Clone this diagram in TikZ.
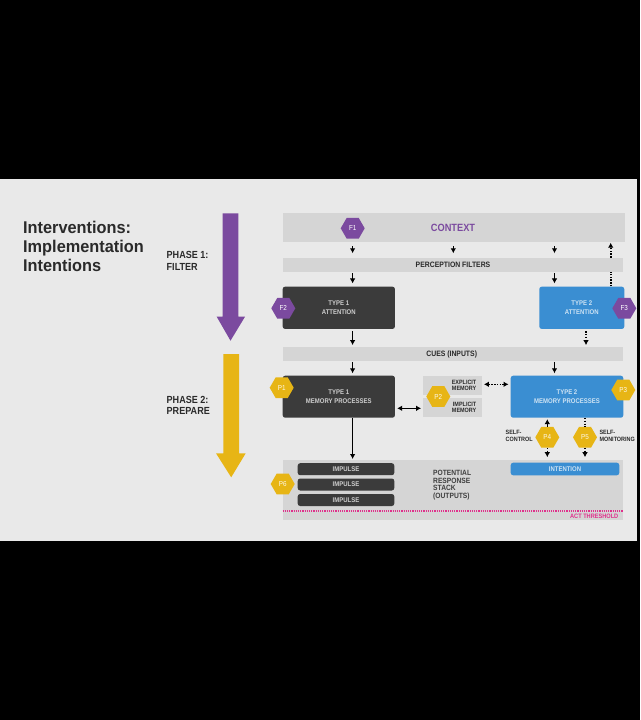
\documentclass[tikz,border=0pt]{standalone}
\usepackage{fontspec}
\setmainfont{Liberation Sans}
\newfontfamily\lbl{Liberation Sans}[FakeStretch=0.88]
\newfontfamily\ttl{Liberation Sans}[FakeStretch=0.96]
\usetikzlibrary{shapes.geometric,arrows.meta}
\definecolor{slidebg}{HTML}{E9E9E9}
\definecolor{barg}{HTML}{D5D5D5}
\definecolor{darkbox}{HTML}{3B3B3B}
\definecolor{bluec}{HTML}{3A8ED2}
\definecolor{purp}{HTML}{7B4A9F}
\definecolor{yell}{HTML}{E7B515}
\definecolor{magc}{HTML}{E0308C}
\definecolor{textdark}{HTML}{2A2A2A}
\definecolor{boxtext}{HTML}{CFCFCF}
\begin{document}
\begin{tikzpicture}[x=1pt,y=-1pt,
  bar/.style={fill=barg, draw=none, inner sep=0pt, text=textdark, font=\lbl\bfseries\fontsize{7.8}{9}\selectfont},
  dbox/.style={fill=darkbox, rounded corners=2.5pt, inner sep=0pt, align=center, text=boxtext, font=\lbl\bfseries\fontsize{6.8}{8.6}\selectfont},
  bbox/.style={fill=bluec, rounded corners=2.5pt, inner sep=0pt, align=center, text=white!75!bluec, font=\lbl\bfseries\fontsize{6.8}{8.6}\selectfont},
  membox/.style={fill=barg, inner sep=0pt, minimum width=58.4pt, minimum height=19.6pt},
  hexp/.style={regular polygon, regular polygon sides=6, minimum size=24pt, inner sep=0pt, fill=purp, text=white, font=\lbl\fontsize{7.2}{8}\selectfont},
  hexy/.style={hexp, fill=yell, text=white!90!yell},
  smalllbl/.style={inner sep=0pt, text=textdark, font=\lbl\bfseries\fontsize{6.2}{6.6}\selectfont},
  arr/.style={line width=1.6pt, -{Latex[length=5pt,width=5.6pt]}},
  dotarr/.style={arr, dash pattern=on 1.5pt off 1.3pt},
  dotln/.style={line width=1.6pt, dash pattern=on 1.5pt off 1.3pt},
  biarr/.style={line width=1.6pt, {Latex[length=5pt,width=5.6pt]}-{Latex[length=5pt,width=5.6pt]}},
  dotbiarr/.style={biarr, dash pattern=on 1.5pt off 1.3pt}
]
\useasboundingbox (0,0) rectangle (640,720);
\fill[black] (0,0) rectangle (640,720);
\fill[slidebg] (0,179) rectangle (637,541);

% title and phases
\node[anchor=west, align=left, inner sep=0pt, text=textdark, font=\ttl\bfseries\fontsize{17}{19}\selectfont] (title) at (23,246.7) {Interventions:\\Implementation\\Intentions};
\node[anchor=west, align=left, inner sep=0pt, text=textdark, font=\lbl\bfseries\fontsize{10.3}{11.7}\selectfont] (ph1) at (166.5,261) {PHASE 1:\\FILTER};
\node[anchor=west, align=left, inner sep=0pt, text=textdark, font=\lbl\bfseries\fontsize{10.3}{11.7}\selectfont] (ph2) at (166.5,405.5) {PHASE 2:\\PREPARE};

% big arrows
\fill[purp] (222.7,213.3) -- (238.3,213.3) -- (238.3,316.7) -- (245,316.7) -- (230.5,340.7) -- (216.7,316.7) -- (222.7,316.7) -- cycle;
\fill[yell] (223.3,354) -- (239,354) -- (239,453.3) -- (245.7,453.3) -- (231.2,477.3) -- (216,453.3) -- (223.3,453.3) -- cycle;

% bars
\node[bar, minimum width=341.7pt, minimum height=28.4pt, text=purp, font=\lbl\bfseries\fontsize{10.5}{12}\selectfont] (ctx) at (454.2,227.5) {\hspace*{-2.4pt}CONTEXT};
\node[bar, minimum width=340pt, minimum height=13.7pt] (pf) at (453,264.8) {PERCEPTION FILTERS};
\node[bar, minimum width=340pt, minimum height=13.4pt] (cues) at (452.7,354) {\hspace*{-2pt}CUES (INPUTS)};
\node[bar, minimum width=340pt, minimum height=60pt] (stack) at (452.7,490) {};

% boxes
\node[dbox, minimum width=112.3pt, minimum height=42.3pt] (t1att) at (338.8,307.8) {TYPE 1\\ATTENTION};
\node[bbox, minimum width=85pt, minimum height=42.3pt] (t2att) at (581.8,307.8) {TYPE 2\\ATTENTION};
\node[dbox, minimum width=112.3pt, minimum height=42pt] (t1mem) at (338.8,396.7) {TYPE 1\\MEMORY PROCESSES};
\node[bbox, minimum width=112.6pt, minimum height=42pt] (t2mem) at (567,396.7) {TYPE 2\\MEMORY PROCESSES};
\node[membox] (expl) at (452.5,385.5) {};
\node[membox] (impl) at (452.5,407.6) {};
\node[smalllbl, anchor=east, align=right] (explt) at (476.5,385.3) {EXPLICIT\\MEMORY};
\node[smalllbl, anchor=east, align=right] (implt) at (476.5,407.5) {IMPLICIT\\MEMORY};

% stack contents
\node[dbox, minimum width=96.6pt, minimum height=12pt] (imp1) at (346,469.2) {IMPULSE};
\node[dbox, minimum width=96.6pt, minimum height=12pt] (imp2) at (346,484.5) {IMPULSE};
\node[dbox, minimum width=96.6pt, minimum height=12pt] (imp3) at (346,500) {IMPULSE};
\node[bbox, minimum width=108.6pt, minimum height=12.6pt] (intent) at (565,469) {INTENTION};
\node[anchor=west, align=left, inner sep=0pt, text=textdark!90!white, font=\lbl\bfseries\fontsize{7.6}{7.7}\selectfont] (prs) at (433,485) {POTENTIAL\\RESPONSE\\STACK\\(OUTPUTS)};
\coordinate (thr) at (0,511);
\draw[draw=magc, line width=1.3pt, dash pattern=on 1.2pt off 1pt] (stack.west |- thr) -- (stack.east |- thr);
\node[anchor=east, inner sep=0pt, text=magc, font=\lbl\bfseries\fontsize{6.4}{7}\selectfont] (act) at (618.5,516.5) {ACT THRESHOLD};

% side labels
\node[smalllbl, anchor=west, align=left] (sc) at (505.5,435.6) {SELF-\\CONTROL};
\node[smalllbl, anchor=west, align=left] (sm) at (599.3,435.6) {SELF-\\MONITORING};

% hexagons
\node[hexp] (f1) at (352.7,228.3) {F1};
\node[hexp] (f2) at (283.3,308.3) {F2};
\node[hexp] (f3) at (624.3,308.3) {F3};
\node[hexy] (p1) at (281.7,387.7) {P1};
\node[hexy] (p2) at (438.3,396.5) {P2};
\node[hexy] (p3) at (623.3,390) {P3};
\node[hexy] (p4) at (547.3,437.3) {P4};
\node[hexy] (p5) at (585,437.3) {P5};
\node[hexy] (p6) at (282.7,484) {P6};

% columns
\coordinate (cA) at (352.6,0);
\coordinate (cB) at (453.3,0);
\coordinate (cC) at (554.5,0);
\coordinate (cD) at (610.7,0);
\coordinate (cE) at (586,0);

% connectors
\draw[arr, shorten <=4.3pt, shorten >=4.5pt] (ctx.south -| cA) -- (pf.north -| cA);
\draw[arr, shorten <=4.3pt, shorten >=4.5pt] (ctx.south -| cB) -- (pf.north -| cB);
\draw[arr, shorten <=4.3pt, shorten >=4.5pt] (ctx.south -| cC) -- (pf.north -| cC);
\draw[dotarr, shorten >=0.8pt] (pf.north -| cD) -- (ctx.south -| cD);
\draw[dotln] (t2att.north -| cD) -- (pf.south -| cD);
\draw[arr, shorten <=1.3pt, shorten >=3pt] (pf.south -| cA) -- (t1att.north -| cA);
\draw[arr, shorten <=1.3pt, shorten >=3pt] (pf.south -| cC) -- (t2att.north -| cC);
\draw[arr, shorten <=2pt, shorten >=2pt] (t1att.south -| cA) -- (cues.north -| cA);
\draw[dotarr, shorten <=2pt, shorten >=2pt] (t2att.south -| cE) -- (cues.north -| cE);
\draw[arr, shorten <=1pt, shorten >=2.2pt] (cues.south -| cA) -- (t1mem.north -| cA);
\draw[arr, shorten <=1pt, shorten >=2.2pt] (cues.south -| cC) -- (t2mem.north -| cC);
\draw[arr, shorten >=0.8pt] (t1mem.south -| cA) -- (stack.north -| cA);
\coordinate (rowB) at (0,408.3);
\coordinate (rowE) at (0,384.3);
\draw[biarr, shorten <=2pt, shorten >=2pt] (t1mem.east |- rowB) -- (impl.west |- rowB);
\draw[dotbiarr, shorten <=2pt, shorten >=2pt] (expl.east |- rowE) -- (t2mem.west |- rowE);
\draw[dotarr, shorten >=1.2pt] (p4.north) -- (t2mem.south -| p4.north);
\draw[dotarr, shorten >=2.6pt] (p4.south) -- (stack.north -| p4.south);
\draw[dotln] (t2mem.south -| p5.north) -- (p5.north);
\draw[dotarr, shorten >=2.6pt] (p5.south) -- (stack.north -| p5.south);
\end{tikzpicture}
\end{document}
